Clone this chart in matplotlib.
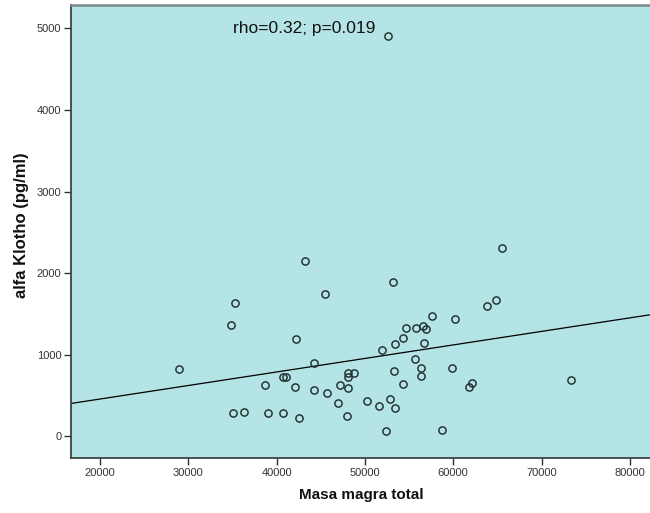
import matplotlib.pyplot as plt
import numpy as np

plt.rcParams["font.family"] = ["Liberation Sans", "DejaVu Sans"]

# lean mass (g) vs alpha Klotho (pg/ml), one point per subject
masa_magra = [
    28913, 34836, 35250, 35062, 36308, 38686, 38981, 40690, 41030, 40680,
    42084, 42197, 42571, 43216, 44270, 44236, 45515, 45708, 46988, 47180,
    47927, 48120, 48800, 48120, 48120, 50238, 51563, 51902, 52424, 52571,
    52843, 53148, 53250, 53409, 53443, 54315, 54352, 54692, 55708, 55787,
    56353, 56353, 56614, 56727, 56954, 57635, 58732, 59820, 60238, 61812,
    62084, 63862, 64802, 65550, 73307,
]
klotho = [
    828, 1360, 1637, 282, 298, 632, 286, 723, 723, 282,
    604, 1192, 220, 2148, 902, 564, 1744, 534, 412, 632,
    253, 779, 779, 723, 588, 433, 375, 1054, 65, 4909,
    453, 1895, 797, 1127, 347, 641, 1201, 1327, 944, 1323,
    833, 743, 1348, 1143, 1315, 1478, 73, 833, 1441, 608,
    650, 1593, 1667, 2308, 694,
]
x_ticks = [20000, 30000, 40000, 50000, 60000, 70000, 80000]
y_ticks = [0, 1000, 2000, 3000, 4000, 5000]
stats_label = "rho=0.32; p=0.019"


def plot_scatter(x: np.ndarray, y: np.ndarray) -> None:
    fig = plt.figure(figsize=(6.5, 5.13), dpi=100)
    ax = fig.add_axes([0.1092, 0.1066, 0.8923, 0.8842])
    ax.set_facecolor("#b4e4e6")

    xlim = (16700, 82400)
    ax.set_xlim(*xlim)
    ax.set_ylim(-270, 5290)

    # least squares fit over the whole x range
    slope, intercept = np.polyfit(x, y, 1)
    xs = np.array(xlim)
    ax.plot(xs, intercept + slope * xs, color="black", linewidth=0.9, zorder=2)

    ax.plot(x, y, linestyle="none", marker="o", markersize=5.2,
            markerfacecolor="none", markeredgecolor="#223030",
            markeredgewidth=1.05, zorder=3)

    ax.text(35000, 5000, stats_label, fontsize=12.5, va="center", ha="left",
            color="#111111")

    ax.set_xticks(x_ticks)
    ax.set_yticks(y_ticks)
    ax.tick_params(direction="out", length=5, width=1.0, color="#333333",
                   labelsize=8, labelcolor="#333333", pad=2)

    for side in ("left", "bottom"):
        ax.spines[side].set_color("#3a4444")
        ax.spines[side].set_linewidth(1.3)
    ax.spines["top"].set_color("#7a8888")
    ax.spines["top"].set_linewidth(1.8)
    ax.spines["right"].set_visible(False)

    ax.set_xlabel("Masa magra total", fontsize=11, fontweight="bold",
                  color="#111111", labelpad=7)
    ax.set_ylabel("alfa Klotho (pg/ml)", fontsize=12, fontweight="bold",
                  color="#111111", va="center")
    ax.yaxis.set_label_coords(-0.086, 0.514)

    fig.savefig("out.png", dpi=100)


if __name__ == "__main__":
    plot_scatter(np.array(masa_magra), np.array(klotho))
